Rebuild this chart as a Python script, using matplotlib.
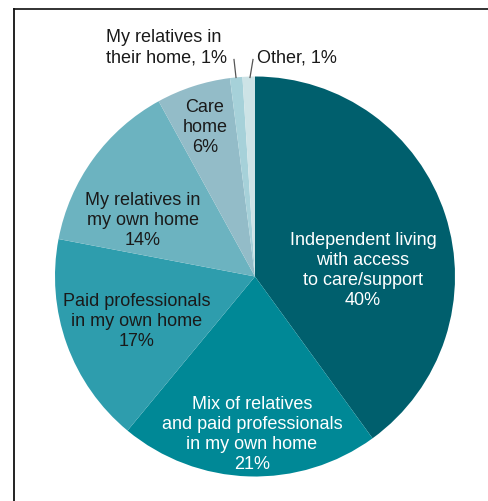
import matplotlib
matplotlib.use("Agg")
import matplotlib.pyplot as plt
from matplotlib.lines import Line2D

plt.rcParams['font.family'] = ['Liberation Sans', 'DejaVu Sans']

# care preference shares, clockwise from 12 o'clock
labels = [
    "Independent living\nwith access\nto care/support",
    "Mix of relatives\nand paid professionals\nin my own home",
    "Paid professionals\nin my own home",
    "My relatives in\nmy own home",
    "Care\nhome",
    "My relatives in\ntheir home",
    "Other",
]
shares = [40, 21, 17, 14, 6, 1, 1]
colors = ["#005f6d", "#008896", "#2e9dad", "#6cb3c0", "#93bcc8", "#a6d1d9", "#cde3e6"]
text_colors = ["white", "white", "#1a1a1a", "#1a1a1a", "#1a1a1a"]

FS = 13
LS = 1.25

W, H = 489, 502
fig = plt.figure(figsize=(W / 100, H / 100), dpi=100)

# pie centre (255, 277) px from top-left, radius 200 px
cx, cy, r = 255, 277.5, 200
ax = fig.add_axes([(cx - r) / W, (H - cy - r) / H, 2 * r / W, 2 * r / H])
ax.pie(shares, colors=colors, startangle=90, counterclock=False,
       radius=1, wedgeprops=dict(linewidth=0))
ax.set_xlim(-1, 1)
ax.set_ylim(-1, 1)
ax.set_aspect('equal')
ax.axis('off')

# inside label anchors (axes units)
inside_pos = [(0.54, 0.035), (-0.015, -0.785), (-0.59, -0.22), (-0.56, 0.285), (-0.25, 0.75)]
for i, (x, y) in enumerate(inside_pos):
    ax.text(x, y, f"{labels[i]}\n{shares[i]}%", ha='center', va='center',
            fontsize=FS, color=text_colors[i], linespacing=LS)

# small slices get outside labels with leader lines
ax.text(-0.745, 1.055, f"{labels[5]}, {shares[5]}%", ha='left', va='bottom',
        fontsize=FS, color="#1a1a1a", linespacing=LS)
ax.text(0.012, 1.055, f"{labels[6]}, {shares[6]}%", ha='left', va='bottom',
        fontsize=FS, color="#1a1a1a")
ax.plot([-0.105, -0.095], [1.085, 0.995], color="#555555", lw=0.9, clip_on=False)
ax.plot([-0.01, -0.025], [1.085, 0.995], color="#555555", lw=0.9, clip_on=False)

# frame: top and left rules only
fig.add_artist(Line2D([14.5 / W, 1], [1 - 9.5 / H, 1 - 9.5 / H], color="#222222", lw=1.3))
fig.add_artist(Line2D([14.5 / W, 14.5 / W], [0, 1 - 9.5 / H], color="#111111", lw=1.3))

fig.savefig("out.png", dpi=100)
